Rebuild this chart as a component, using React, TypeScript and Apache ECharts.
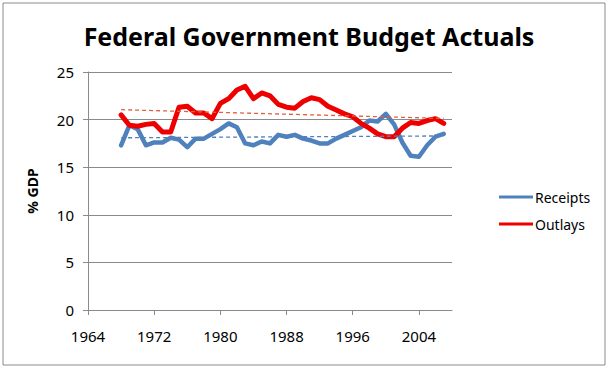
import React, { useEffect, useRef } from "react";
import * as echarts from "echarts";

const years = [
  1968, 1969, 1970, 1971, 1972, 1973, 1974, 1975, 1976, 1977,
  1978, 1979, 1980, 1981, 1982, 1983, 1984, 1985, 1986, 1987,
  1988, 1989, 1990, 1991, 1992, 1993, 1994, 1995, 1996, 1997,
  1998, 1999, 2000, 2001, 2002, 2003, 2004, 2005, 2006, 2007,
];
const receipts = [
  17.3, 19.4, 19.0, 17.3, 17.6, 17.6, 18.1, 17.9, 17.1, 18.0,
  18.0, 18.5, 19.0, 19.6, 19.2, 17.5, 17.3, 17.7, 17.5, 18.4,
  18.2, 18.4, 18.0, 17.8, 17.5, 17.5, 18.0, 18.4, 18.8, 19.2,
  19.9, 19.8, 20.6, 19.5, 17.6, 16.2, 16.1, 17.3, 18.2, 18.5,
];
const outlays = [
  20.5, 19.4, 19.3, 19.5, 19.6, 18.7, 18.7, 21.3, 21.4, 20.7,
  20.7, 20.1, 21.7, 22.2, 23.1, 23.5, 22.2, 22.8, 22.5, 21.6,
  21.3, 21.2, 21.9, 22.3, 22.1, 21.4, 21.0, 20.6, 20.3, 19.6,
  19.1, 18.5, 18.2, 18.2, 19.1, 19.7, 19.6, 19.9, 20.1, 19.6,
];
const xFirstYear = 1964;
const xLastYear = 2008;
const xTickStep = 8;
const yTicks = [0, 5, 10, 15, 20, 25];

const FONT = "Noto Sans";

function trendLine(xs: number[], ys: number[]) {
  const n = xs.length;
  const mx = xs.reduce((a, b) => a + b, 0) / n;
  const my = ys.reduce((a, b) => a + b, 0) / n;
  let sxy = 0;
  let sxx = 0;
  for (let i = 0; i < n; i++) {
    sxy += (xs[i] - mx) * (ys[i] - my);
    sxx += (xs[i] - mx) * (xs[i] - mx);
  }
  const b = sxy / sxx;
  const a = my - b * mx;
  return [xs[0], xs[n - 1]].map((x) => [String(x), a + b * x]);
}

export default function App() {
  const ref = useRef<HTMLDivElement>(null);
  useEffect(() => {
    if (!ref.current) return;
    const chart = echarts.init(ref.current, undefined, { renderer: "svg" });
    const categories: string[] = [];
    for (let y = xFirstYear; y <= xLastYear; y++) categories.push(String(y));
    const pairs = (vals: number[]) => years.map((y, i) => [String(y), vals[i]]);
    chart.setOption({
      animation: false,
      backgroundColor: "#ffffff",
      textStyle: { fontFamily: FONT },
      title: {
        text: "Federal Government Budget Actuals",
        left: 304,
        textAlign: "center",
        top: 18,
        textStyle: { fontFamily: FONT, fontSize: 25, fontWeight: "bold", color: "#000" },
      },
      graphic: [
        {
          type: "rect",
          shape: { x: 3, y: 3, width: 602, height: 362 },
          style: { fill: "none", stroke: "#8a8a8a", lineWidth: 1 },
          silent: true,
        },
      ],
      legend: {
        orient: "vertical",
        left: 494,
        top: 185,
        itemWidth: 34,
        itemHeight: 3,
        itemGap: 13,
        data: [
          { name: "Receipts", icon: "rect" },
          { name: "Outlays", icon: "rect" },
        ],
        textStyle: { fontFamily: FONT, fontSize: 14, color: "#000", padding: [0, 0, 0, -3] },
      },
      grid: { left: 88, right: 156, top: 72, bottom: 58, containLabel: false },
      xAxis: {
        type: "category",
        data: categories,
        boundaryGap: false,
        axisLine: { show: true, lineStyle: { color: "#8a8a8a", width: 1 } },
        axisTick: { show: true, interval: xTickStep - 1, length: 5, lineStyle: { color: "#8a8a8a" } },
        axisLabel: {
          interval: xTickStep - 1,
          margin: 18,
          fontFamily: FONT,
          fontSize: 15,
          color: "#000",
        },
        splitLine: { show: false },
      },
      yAxis: {
        type: "value",
        min: yTicks[0],
        max: yTicks[yTicks.length - 1],
        interval: yTicks[1] - yTicks[0],
        name: "% GDP",
        nameLocation: "middle",
        nameRotate: 90,
        nameGap: 49,
        nameTextStyle: { fontFamily: FONT, fontSize: 14, fontWeight: "bold", color: "#000" },
        axisLine: { show: true, lineStyle: { color: "#8a8a8a", width: 1 } },
        axisTick: { show: true, length: 5, lineStyle: { color: "#8a8a8a" } },
        axisLabel: { margin: 14, fontFamily: FONT, fontSize: 15, color: "#000" },
        splitLine: { show: true, lineStyle: { color: "#8a8a8a", width: 1 } },
      },
      series: [
        {
          name: "Receipts",
          type: "line",
          data: pairs(receipts),
          symbol: "none",
          color: "#4F81BD",
          lineStyle: { width: 4.5, color: "#4F81BD", join: "round", cap: "round" },
          z: 3,
        },
        {
          name: "Outlays",
          type: "line",
          data: pairs(outlays),
          symbol: "none",
          color: "#EE0000",
          lineStyle: { width: 5, color: "#EE0000", join: "round", cap: "round" },
          z: 4,
        },
        {
          name: "Receipts trend",
          type: "line",
          data: trendLine(years, receipts),
          symbol: "none",
          lineStyle: { width: 1.3, color: "#4F81BD", type: [4, 3] },
          z: 5,
        },
        {
          name: "Outlays trend",
          type: "line",
          data: trendLine(years, outlays),
          symbol: "none",
          lineStyle: { width: 1.3, color: "#E2603A", type: [4, 3] },
          z: 5,
        },
      ],
    });
    return () => chart.dispose();
  }, []);
  return (
    <div
      ref={ref}
      style={{ position: "fixed", left: 0, top: 0, width: 608, height: 368 }}
    />
  );
}
